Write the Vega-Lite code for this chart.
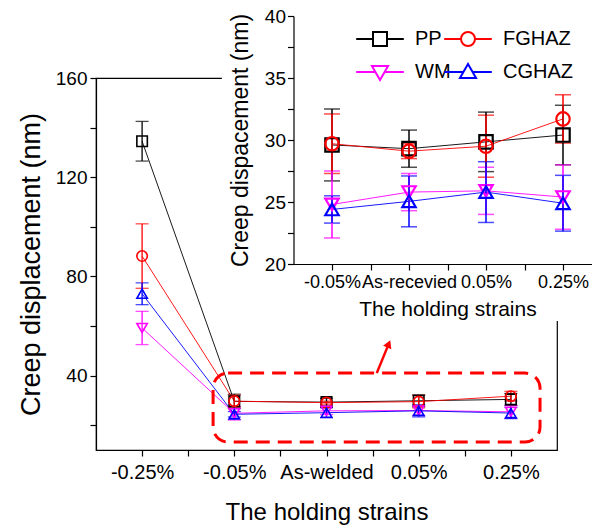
{
  "$schema": "https://vega.github.io/schema/vega-lite/v6.json",
  "autosize": {"type": "none"},
  "padding": {"left": 96, "top": 78, "right": 35, "bottom": 79},
  "width": 461,
  "height": 372,
  "background": "white",
  "config": {
    "font": "Liberation Sans",
    "view": {"stroke": "black", "strokeWidth": 1.2},
    "axis": {
      "grid": false,
      "domainColor": "black",
      "domainWidth": 1.2,
      "tickColor": "black",
      "tickWidth": 1.2,
      "labelColor": "black",
      "titleColor": "black",
      "titleFontWeight": "normal",
      "labelOverlap": false,
      "labelFlush": false
    }
  },
  "datasets": {
    "creep": [
      {"idx": 0, "series": "PP", "value": 134.5, "err": 8},
      {"idx": 0, "series": "FGHAZ", "value": 88.2, "err": 13},
      {"idx": 0, "series": "WM", "value": 59.2, "err": 6.7},
      {"idx": 0, "series": "CGHAZ", "value": 73.0, "err": 4.4},
      {"idx": 1, "series": "PP", "value": 29.6, "err": 2.9},
      {"idx": 1, "series": "FGHAZ", "value": 29.7, "err": 2.4},
      {"idx": 1, "series": "WM", "value": 24.8, "err": 2.7},
      {"idx": 1, "series": "CGHAZ", "value": 24.4, "err": 1.1},
      {"idx": 2, "series": "PP", "value": 29.3, "err": 1.5},
      {"idx": 2, "series": "FGHAZ", "value": 29.1, "err": 0.6},
      {"idx": 2, "series": "WM", "value": 25.8, "err": 1.5},
      {"idx": 2, "series": "CGHAZ", "value": 25.05, "err": 2.05},
      {"idx": 3, "series": "PP", "value": 29.85, "err": 2.4},
      {"idx": 3, "series": "FGHAZ", "value": 29.5, "err": 2.5},
      {"idx": 3, "series": "WM", "value": 25.9, "err": 1.9},
      {"idx": 3, "series": "CGHAZ", "value": 25.8, "err": 2.45},
      {"idx": 4, "series": "PP", "value": 30.4, "err": 2.4},
      {"idx": 4, "series": "FGHAZ", "value": 31.7, "err": 1.95},
      {"idx": 4, "series": "WM", "value": 25.4, "err": 2.6},
      {"idx": 4, "series": "CGHAZ", "value": 24.9, "err": 2.25}
    ]
  },
  "resolve": {
    "scale": {"x": "independent", "y": "independent"},
    "axis": {"x": "independent", "y": "independent"}
  },
  "layer": [
    {
      "layer": [
        {
          "data": {"name": "creep"},
          "mark": {"type": "line", "strokeWidth": 0.9},
          "encoding": {
            "x": {
              "field": "idx", "type": "quantitative", "title": "The holding strains",
              "scale": {"domain": [-0.5, 4.5], "nice": false, "zero": false},
              "axis": {
                "values": [0, 0.5, 1, 1.5, 2, 2.5, 3, 3.5, 4],
                "labelExpr": "datum.value == 0 ? '-0.25%' : datum.value == 1 ? '-0.05%' : datum.value == 2 ? 'As-welded' : datum.value == 3 ? '0.05%' : datum.value == 4 ? '0.25%' : ''",
                "labelFontSize": 20, "tickSize": 6, "labelPadding": 6,
                "title": "The holding strains", "titleFontSize": 24, "titlePadding": 18
              }
            },
            "y": {
              "field": "value", "type": "quantitative", "title": "Creep displacement (nm)",
              "scale": {"domain": [10, 160], "nice": false, "zero": false},
              "axis": {
                "values": [20, 40, 60, 80, 100, 120, 140, 160],
                "labelExpr": "datum.value % 40 == 0 ? datum.label : ''",
                "labelFontSize": 19, "tickSize": 6, "labelPadding": 3,
                "title": "Creep displacement (nm)", "titleFontSize": 27, "titlePadding": 10
              }
            },
            "color": {"field": "series", "type": "nominal", "legend": null,
              "scale": {"domain": ["PP", "WM", "FGHAZ", "CGHAZ"], "range": ["#000000", "#ff00ff", "#ff0000", "#0000ff"]}},
            "detail": {"field": "series"}
          }
        },
        {
          "data": {"name": "creep"},
          "mark": {"type": "errorbar", "ticks": {"size": 13, "thickness": 1.3}, "rule": {"strokeWidth": 1.3}},
          "encoding": {
            "x": {"field": "idx", "type": "quantitative", "title": "The holding strains"},
            "y": {"field": "value", "type": "quantitative", "title": "Creep displacement (nm)"},
            "yError": {"field": "err"},
            "color": {"field": "series", "type": "nominal", "legend": null}
          }
        },
        {
          "data": {"name": "creep"},
          "mark": {"type": "point", "filled": false, "size": 110, "strokeWidth": 1.6, "opacity": 1},
          "encoding": {
            "x": {"field": "idx", "type": "quantitative", "title": "The holding strains"},
            "y": {"field": "value", "type": "quantitative", "title": "Creep displacement (nm)"},
            "color": {"field": "series", "type": "nominal", "legend": null},
            "shape": {"field": "series", "type": "nominal", "legend": null,
              "scale": {"domain": ["CGHAZ", "WM", "FGHAZ", "PP"], "range": ["triangle-up", "triangle-down", "circle", "square"]}}
          }
        },
        {
          "data": {"values": [{}]},
          "mark": {"type": "rect", "fill": "transparent", "stroke": "#ff0000", "strokeWidth": 3, "strokeDash": [14, 8], "cornerRadius": 15},
          "encoding": {
            "x": {"datum": 0.77, "type": "quantitative", "title": "The holding strains"},
            "x2": {"datum": 4.316},
            "y": {"datum": 41.0, "type": "quantitative", "title": "Creep displacement (nm)"},
            "y2": {"datum": 13.2}
          }
        },
        {
          "data": {"values": [{}]},
          "mark": {"type": "rule", "stroke": "#ff0000", "strokeWidth": 2.5},
          "encoding": {
            "x": {"datum": 2.545, "type": "quantitative", "title": "The holding strains"},
            "x2": {"datum": 2.675},
            "y": {"datum": 41.0, "type": "quantitative", "title": "Creep displacement (nm)"},
            "y2": {"datum": 52.8}
          }
        },
        {
          "data": {"values": [{}]},
          "mark": {"type": "point", "shape": "triangle-up", "filled": true, "color": "#ff0000", "size": 80, "angle": 23, "opacity": 1},
          "encoding": {
            "x": {"datum": 2.675, "type": "quantitative", "title": "The holding strains"},
            "y": {"datum": 52.8, "type": "quantitative", "title": "Creep displacement (nm)"}
          }
        }
      ]
    },
    {
      "layer": [
        {
          "data": {"values": [{}]},
          "mark": {"type": "rect", "fill": "white"},
          "encoding": {
            "x": {"datum": -0.43, "type": "quantitative", "title": "The holding strains"},
            "x2": {"datum": 4.7},
            "y": {"datum": 41.4, "type": "quantitative", "title": "Creep dispacement (nm)"},
            "y2": {"datum": 15.4}
          }
        },
        {
          "data": {"name": "creep"},
          "transform": [{"filter": "datum.idx > 0"}],
          "mark": {"type": "line", "strokeWidth": 0.9},
          "encoding": {
            "x": {
              "field": "idx", "type": "quantitative", "title": "The holding strains",
              "scale": {"domain": [0.5, 4.5], "range": [197.5, 505.5], "nice": false, "zero": false},
              "axis": {
                "orient": "bottom", "offset": -186, "zindex": 1,
                "values": [1, 1.5, 2, 2.5, 3, 3.5, 4],
                "labelExpr": "datum.value == 1 ? '-0.05%' : datum.value == 2 ? 'As-recevied' : datum.value == 3 ? '0.05%' : datum.value == 4 ? '0.25%' : ''",
                "labelFontSize": 18, "tickSize": 6, "labelPadding": 3,
                "title": "The holding strains", "titleFontSize": 21, "titlePadding": 7
              }
            },
            "y": {
              "field": "value", "type": "quantitative", "title": "Creep dispacement (nm)",
              "scale": {"domain": [20, 40], "range": [186, -62], "nice": false, "zero": false},
              "axis": {
                "orient": "left", "offset": -197.5, "zindex": 1,
                "values": [20, 22.5, 25, 27.5, 30, 32.5, 35, 37.5, 40],
                "labelExpr": "datum.value % 5 == 0 ? datum.label : ''",
                "labelFontSize": 19, "tickSize": 6, "labelPadding": 2,
                "title": "Creep dispacement (nm)", "titleFontSize": 23, "titlePadding": 12
              }
            },
            "color": {"field": "series", "type": "nominal", "legend": null},
            "detail": {"field": "series"}
          }
        },
        {
          "data": {"name": "creep"},
          "transform": [{"filter": "datum.idx > 0"}],
          "mark": {"type": "errorbar", "ticks": {"size": 16, "thickness": 1.5}, "rule": {"strokeWidth": 1.5}},
          "encoding": {
            "x": {"field": "idx", "type": "quantitative", "title": "The holding strains"},
            "y": {"field": "value", "type": "quantitative", "title": "Creep dispacement (nm)"},
            "yError": {"field": "err"},
            "color": {"field": "series", "type": "nominal", "legend": null}
          }
        },
        {
          "data": {"name": "creep"},
          "transform": [{"filter": "datum.idx > 0"}],
          "mark": {"type": "point", "filled": false, "size": 180, "strokeWidth": 2.2, "opacity": 1},
          "encoding": {
            "x": {"field": "idx", "type": "quantitative", "title": "The holding strains"},
            "y": {"field": "value", "type": "quantitative", "title": "Creep dispacement (nm)"},
            "stroke": {
              "field": "series", "type": "nominal",
              "scale": {"domain": ["PP", "FGHAZ", "WM", "CGHAZ"], "range": ["#000000", "#ff0000", "#ff00ff", "#0000ff"]},
              "legend": {
                "orient": "none", "legendX": 274, "legendY": -49, "columns": 2, "direction": "horizontal", "title": null,
                "padding": 0, "labelFontSize": 20, "labelColor": "black", "labelOffset": 25,
                "symbolSize": 196, "symbolStrokeWidth": 2, "columnPadding": -11, "rowPadding": 9,
                "encoding": {
                  "symbols": {
                    "shape": {"value": {"expr": "datum.value === 'PP' ? 'M-3.4,0H-1M1,0H3.4M-1,-1H1V1H-1Z' : datum.value === 'FGHAZ' ? 'M-3.4,0H-1M1,0H3.4M1,0A1,1,0,1,1,-1,0A1,1,0,1,1,1,0Z' : datum.value === 'WM' ? 'M-3.4,0H-0.7M0.7,0H3.4M-1.15,-0.85L1.15,-0.85L0,1.15Z' : 'M-3.4,0H-0.7M0.7,0H3.4M-1.15,0.85L1.15,0.85L0,-1.15Z'"}}
                  }
                }
              }
            },
            "shape": {"field": "series", "type": "nominal", "legend": null}
          }
        }
      ]
    }
  ]
}
